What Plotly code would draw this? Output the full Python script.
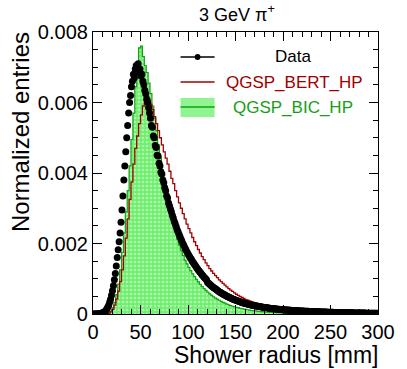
import numpy as np
import plotly.graph_objects as go

# Bin centres: data in 1 mm bins, simulations in 2 mm bins (shower radius, mm)
data_centers = np.arange(0.5, 300, 1)
sim_centers = np.arange(1, 300, 2)

# Values in units of 1e-3 (normalized entries)
data_vals = [
    0, 0, 0, 0, 0.003, 0.005, 0.008, 0.012, 0.018, 0.025,
    0.035, 0.05, 0.07, 0.1, 0.14, 0.19, 0.25, 0.33, 0.42, 0.53,
    0.66, 0.8, 0.97, 1.15, 1.36, 1.6, 1.82, 2.05, 2.3, 2.6,
    2.95, 3.35, 3.8, 4.2, 4.6, 5.0, 5.35, 5.7, 6.0, 6.2,
    6.45, 6.6, 6.8, 6.7, 6.95, 7.05, 6.85, 7.1, 6.9, 6.95,
    6.75, 6.8, 6.6, 6.5, 6.35, 6.25, 6.1, 6.0, 5.85, 5.7,
    5.55, 5.35, 5.3, 5.05, 5.0, 4.78, 4.72, 4.5, 4.48, 4.28,
    4.2, 4.02, 3.97, 3.8, 3.72, 3.58, 3.5, 3.35, 3.29, 3.15,
    3.07, 2.98, 2.9, 2.8, 2.72, 2.63, 2.56, 2.48, 2.4, 2.33,
    2.26, 2.2, 2.13, 2.07, 2.0, 1.95, 1.89, 1.84, 1.78, 1.73,
    1.68, 1.64, 1.59, 1.55, 1.5, 1.46, 1.42, 1.38, 1.34, 1.3,
    1.26, 1.23, 1.19, 1.16, 1.12, 1.09, 1.06, 1.03, 1.0, 0.97,
    0.9, 0.88, 0.85, 0.83, 0.8, 0.78, 0.76, 0.74, 0.72, 0.7,
    0.68, 0.66, 0.64, 0.62, 0.61, 0.59, 0.57, 0.56, 0.54, 0.53,
    0.51, 0.5, 0.49, 0.47, 0.46, 0.45, 0.43, 0.42, 0.41, 0.4,
    0.39, 0.38, 0.37, 0.36, 0.35, 0.34, 0.33, 0.32, 0.31, 0.305,
    0.3, 0.29, 0.285, 0.275, 0.27, 0.26, 0.255, 0.25, 0.245, 0.24,
    0.235, 0.23, 0.225, 0.22, 0.215, 0.21, 0.205, 0.2, 0.195, 0.19,
    0.186, 0.182, 0.178, 0.174, 0.17, 0.166, 0.162, 0.158, 0.155, 0.152,
    0.149, 0.146, 0.143, 0.14, 0.137, 0.134, 0.131, 0.128, 0.126, 0.123,
    0.121, 0.118, 0.116, 0.114, 0.112, 0.11, 0.108, 0.106, 0.104, 0.102,
    0.1, 0.098, 0.096, 0.095, 0.093, 0.091, 0.09, 0.088, 0.086, 0.085,
    0.084, 0.083, 0.081, 0.08, 0.078, 0.077, 0.075, 0.074, 0.073, 0.071,
    0.07, 0.069, 0.068, 0.066, 0.065, 0.064, 0.063, 0.062, 0.061, 0.06,
    0.059, 0.058, 0.057, 0.056, 0.055, 0.054, 0.053, 0.052, 0.051, 0.05,
    0.049, 0.048, 0.047, 0.046, 0.046, 0.045, 0.044, 0.043, 0.042, 0.042,
    0.041, 0.04, 0.039, 0.039, 0.038, 0.037, 0.036, 0.036, 0.035, 0.034,
    0.034, 0.033, 0.032, 0.032, 0.031, 0.031, 0.03, 0.029, 0.029, 0.028,
    0.028, 0.027, 0.027, 0.026, 0.026, 0.025, 0.025, 0.024, 0.024, 0.023,
    0.023, 0.022, 0.022, 0.021, 0.021, 0.02, 0.02, 0.019, 0.019, 0.018,
]

bic_vals = [
    0, 0, 0, 0, 0, 0, 0.005, 0.01, 0.03, 0.08,
    0.18, 0.33, 0.55, 0.85, 1.25, 1.75, 2.3, 2.9, 3.5, 4.2,
    4.95, 5.7, 6.45, 7.1, 7.55, 7.6, 7.3, 7.05, 6.85, 6.55,
    6.25, 5.9, 5.55, 5.2, 4.8, 4.45, 4.1, 3.8, 3.5, 3.25,
    3.0, 2.75, 2.52, 2.32, 2.12, 1.95, 1.8, 1.66, 1.53, 1.42,
    1.32, 1.23, 1.14, 1.06, 0.98, 0.91, 0.84, 0.78, 0.72, 0.67,
    0.62, 0.57, 0.53, 0.49, 0.45, 0.42, 0.39, 0.36, 0.33, 0.31,
    0.28, 0.26, 0.24, 0.22, 0.21, 0.19, 0.18, 0.16, 0.15, 0.14,
    0.13, 0.12, 0.11, 0.1, 0.095, 0.088, 0.081, 0.075, 0.07, 0.065,
    0.06, 0.055, 0.051, 0.048, 0.044, 0.041, 0.038, 0.035, 0.033, 0.03,
    0.028, 0.026, 0.025, 0.023, 0.022, 0.02, 0.019, 0.018, 0.017, 0.016,
    0.015, 0.014, 0.013, 0.012, 0.012, 0.011, 0.01, 0.01, 0.009, 0.009,
    0.008, 0.008, 0.007, 0.007, 0.006, 0.006, 0.006, 0.005, 0.005, 0.005,
    0.004, 0.004, 0.004, 0.004, 0.003, 0.003, 0.003, 0.003, 0.003, 0.002,
    0.002, 0.002, 0.002, 0.002, 0.002, 0.002, 0.001, 0.001, 0.001, 0.001,
]

bert_vals = [
    0, 0, 0, 0, 0, 0, 0, 0.005, 0.02, 0.06,
    0.13, 0.25, 0.42, 0.65, 0.92, 1.25, 1.65, 2.15, 2.7, 3.25,
    3.75, 4.25, 4.7, 5.05, 5.4, 5.65, 5.9, 6.05, 6.15, 6.1,
    5.95, 5.8, 5.6, 5.4, 5.2, 5.0, 4.8, 4.6, 4.42, 4.25,
    4.05, 3.85, 3.7, 3.5, 3.32, 3.15, 3.0, 2.85, 2.7, 2.55,
    2.42, 2.3, 2.17, 2.05, 1.94, 1.83, 1.73, 1.63, 1.54, 1.45,
    1.37, 1.29, 1.22, 1.15, 1.09, 1.03, 0.97, 0.92, 0.87, 0.82,
    0.77, 0.72, 0.68, 0.64, 0.6, 0.56, 0.53, 0.5, 0.47, 0.44,
    0.41, 0.39, 0.37, 0.35, 0.33, 0.31, 0.29, 0.27, 0.255, 0.24,
    0.225, 0.21, 0.2, 0.19, 0.18, 0.17, 0.16, 0.15, 0.142, 0.135,
    0.128, 0.121, 0.115, 0.109, 0.103, 0.098, 0.093, 0.088, 0.084, 0.08,
    0.076, 0.072, 0.068, 0.065, 0.062, 0.059, 0.056, 0.053, 0.05, 0.048,
    0.046, 0.044, 0.042, 0.04, 0.038, 0.036, 0.034, 0.033, 0.031, 0.03,
    0.028, 0.027, 0.026, 0.025, 0.024, 0.023, 0.022, 0.021, 0.02, 0.019,
    0.018, 0.017, 0.016, 0.016, 0.015, 0.014, 0.014, 0.013, 0.012, 0.012,
]

scale = 1e-3
y_tickvals = [0, 0.002, 0.004, 0.006, 0.008]
y_ticktext = ["0", "0.002", "0.004", "0.006", "0.008"]
x_tickvals = [0, 50, 100, 150, 200, 250, 300]
x_ticktext = ["0", "50", "100", "150", "200", "250", "300"]

RED = "#a00000"
GREEN_LINE = "#10a010"
GREEN_TEXT = "#16a016"
FONT = "Liberation Sans, Arial, sans-serif"

fig = go.Figure()

fig.add_trace(go.Scatter(
    x=sim_centers, y=np.array(bic_vals) * scale, mode="lines",
    line=dict(color=GREEN_LINE, width=1.2, shape="hvh"),
    fill="tozeroy", fillcolor="#80f080",
    fillpattern=dict(shape=".", fgcolor="#e8ffe8", bgcolor="#70ee70", size=4, solidity=0.35),
    showlegend=False, hoverinfo="skip"))

fig.add_trace(go.Scatter(
    x=sim_centers, y=np.array(bert_vals) * scale, mode="lines",
    line=dict(color=RED, width=1.3, shape="hvh"),
    showlegend=False, hoverinfo="skip"))

fig.add_trace(go.Scatter(
    x=data_centers, y=np.array(data_vals) * scale, mode="markers",
    marker=dict(color="black", size=7, symbol="circle"),
    showlegend=False, hoverinfo="skip"))

fig.update_xaxes(
    range=[0, 300], showgrid=False, zeroline=False,
    showline=True, linecolor="black", linewidth=1.2, mirror="allticks",
    ticks="inside", ticklen=9, tickcolor="black", tickwidth=1,
    tickvals=x_tickvals, ticktext=x_ticktext,
    minor=dict(ticks="inside", ticklen=5, dtick=10, tickcolor="black", showgrid=False),
    tickfont=dict(family=FONT, size=20, color="black"),
)
fig.update_yaxes(
    range=[0, 0.008], showgrid=False, zeroline=False,
    showline=True, linecolor="black", linewidth=1.2, mirror="allticks",
    ticks="inside", ticklen=9, tickcolor="black", tickwidth=1,
    tickvals=y_tickvals, ticktext=y_ticktext,
    minor=dict(ticks="inside", ticklen=5, dtick=0.0005, tickcolor="black", showgrid=False),
    tickfont=dict(family=FONT, size=20, color="black"),
)

def px2x(px):
    return (px - 93) / 293.0

def px2y(py):
    return (314 - py) / 282.0

shapes = [
    dict(type="line", xref="paper", yref="paper", x0=px2x(183), x1=px2x(218),
         y0=px2y(57), y1=px2y(57), line=dict(color="black", width=1.5)),
    dict(type="circle", xref="paper", yref="paper", x0=px2x(197.5), x1=px2x(203.5),
         y0=px2y(60), y1=px2y(54), fillcolor="black", line=dict(color="black", width=0)),
    dict(type="line", xref="paper", yref="paper", x0=px2x(183), x1=px2x(218),
         y0=px2y(82), y1=px2y(82), line=dict(color=RED, width=1.3)),
    dict(type="rect", xref="paper", yref="paper", x0=px2x(183), x1=px2x(218),
         y0=px2y(117), y1=px2y(98), fillcolor="#90f590", line=dict(width=0)),
    dict(type="line", xref="paper", yref="paper", x0=px2x(183), x1=px2x(218),
         y0=px2y(107), y1=px2y(107), line=dict(color=GREEN_LINE, width=1.3)),
]

annotations = [
    dict(text="3 GeV π<sup>+</sup>", xref="paper", yref="paper", x=px2x(241), y=px2y(13),
         showarrow=False, font=dict(family=FONT, size=18, color="black"),
         xanchor="center", yanchor="middle"),
    dict(text="Data", xref="paper", yref="paper", x=px2x(299), y=px2y(57),
         showarrow=False, font=dict(family=FONT, size=17, color="black"),
         xanchor="center", yanchor="middle"),
    dict(text="QGSP_BERT_HP", xref="paper", yref="paper", x=px2x(300), y=px2y(82),
         showarrow=False, font=dict(family=FONT, size=17, color=RED),
         xanchor="center", yanchor="middle"),
    dict(text="QGSP_BIC_HP", xref="paper", yref="paper", x=px2x(299), y=px2y(107),
         showarrow=False, font=dict(family=FONT, size=17, color=GREEN_TEXT),
         xanchor="center", yanchor="middle"),
    dict(text="Shower radius [mm]", xref="paper", yref="paper", x=px2x(388), y=px2y(369),
         showarrow=False, font=dict(family=FONT, size=23, color="black"),
         xanchor="right", yanchor="bottom", borderpad=0),
    dict(text="Normalized entries", xref="paper", yref="paper", x=px2x(18), y=px2y(30),
         showarrow=False, textangle=-90, font=dict(family=FONT, size=24, color="black"),
         xanchor="center", yanchor="top"),
]

fig.update_layout(
    width=407, height=369,
    margin=dict(l=93, r=21, t=32, b=55),
    paper_bgcolor="white", plot_bgcolor="white",
    shapes=shapes, annotations=annotations,
    showlegend=False,
)

fig.write_html("out.html")
